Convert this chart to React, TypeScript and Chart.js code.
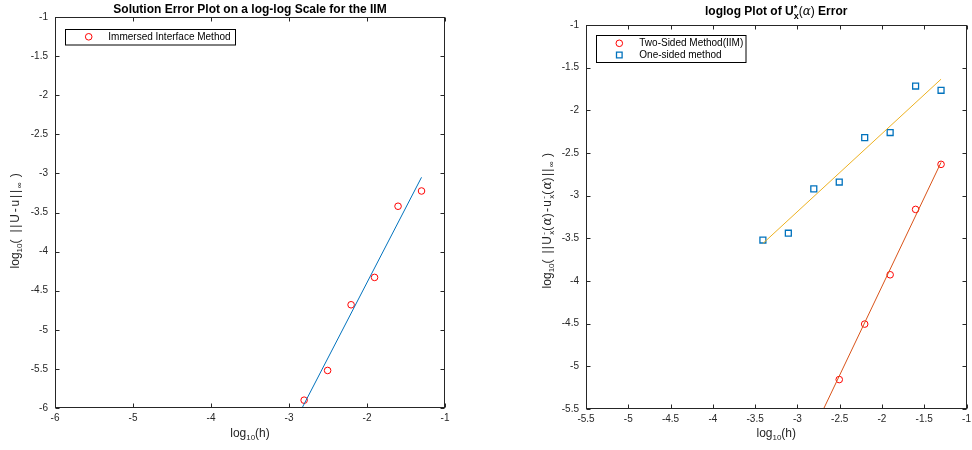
import React, { useEffect, useRef } from "react";
import { Chart, registerables } from "chart.js";
Chart.register(...registerables);

const SANS = '"Liberation Sans", Arial, Helvetica, sans-serif';
const SERIF = '"DejaVu Serif", "Liberation Serif", serif';
const AXIS = "#262626";

// ---------- Left chart data ----------
const leftLogH = [-2.806, -2.505, -2.204, -1.903, -1.602, -1.301];
const leftErr = [-5.9, -5.52, -4.68, -4.33, -3.42, -3.225];
const leftFitH = [-2.9, -1.301];
const leftFitErr = [-6.13, -3.05];
const leftXTicks = [-6, -5, -4, -3, -2, -1];
const leftXTickLabels = ["-6", "-5", "-4", "-3", "-2", "-1"];
const leftYTicks = [-6, -5.5, -5, -4.5, -4, -3.5, -3, -2.5, -2, -1.5, -1];
const leftYTickLabels = ["-6", "-5.5", "-5", "-4.5", "-4", "-3.5", "-3", "-2.5", "-2", "-1.5", "-1"];

// ---------- Right chart data ----------
const rightLogH = [-3.408, -3.107, -2.806, -2.505, -2.204, -1.903, -1.602, -1.301];
const oneSidedErr = [-3.52, -3.44, -2.92, -2.84, -2.32, -2.26, -1.715, -1.765];
const twoSidedH = [-2.505, -2.204, -1.903, -1.602, -1.301];
const twoSidedErr = [-5.155, -4.505, -3.927, -3.161, -2.633];
const oneSidedFitH = [-3.408, -1.301];
const oneSidedFitErr = [-3.56, -1.635];
const twoSidedFitH = [-2.806, -1.301];
const twoSidedFitErr = [-5.74, -2.61];
const rightXTicks = [-5.5, -5, -4.5, -4, -3.5, -3, -2.5, -2, -1.5, -1];
const rightXTickLabels = ["-5.5", "-5", "-4.5", "-4", "-3.5", "-3", "-2.5", "-2", "-1.5", "-1"];
const rightYTicks = [-5.5, -5, -4.5, -4, -3.5, -3, -2.5, -2, -1.5, -1];
const rightYTickLabels = ["-5.5", "-5", "-4.5", "-4", "-3.5", "-3", "-2.5", "-2", "-1.5", "-1"];

type Seg = { t: string; font: string; dy?: number; sub?: string; subDy?: number; ls?: number };

function textW(ctx: CanvasRenderingContext2D, t: string, ls?: number) {
  if (!ls) return ctx.measureText(t).width;
  let w = 0;
  for (const ch of t) w += ctx.measureText(ch).width + ls;
  return w;
}

function segWidth(ctx: CanvasRenderingContext2D, s: Seg) {
  ctx.font = s.font;
  let w = textW(ctx, s.t, s.ls);
  if (s.sub) w = Math.max(w, ctx.measureText(s.sub).width);
  return w;
}

function drawRich(ctx: CanvasRenderingContext2D, segs: Seg[], cx: number, by: number) {
  const total = segs.reduce((a, s) => a + segWidth(ctx, s), 0);
  let x = cx - total / 2;
  ctx.textAlign = "left";
  ctx.textBaseline = "alphabetic";
  for (const s of segs) {
    const w = segWidth(ctx, s);
    ctx.font = s.font;
    if (s.ls) {
      let xx = x;
      for (const ch of s.t) {
        ctx.fillText(ch, xx, by + (s.dy || 0));
        xx += ctx.measureText(ch).width + s.ls;
      }
    } else {
      ctx.fillText(s.t, x, by + (s.dy || 0));
    }
    if (s.sub) ctx.fillText(s.sub, x, by + (s.subDy || 0));
    x += w;
  }
}

type LegendItem = { marker: "circle" | "square"; color: string; text: string; mx: number; my: number; tx: number };
type Spec = {
  xMin: number; xMax: number; yMin: number; yMax: number;
  xTicks: number[]; xLabels: string[]; yTicks: number[]; yLabels: string[];
  padTop: number; padRight: number; yWidth: number; xHeight: number;
  title: Seg[]; titleY: number;
  xLabel: Seg[]; xLabelY: number;
  yLabel: Seg[]; yLabelX: number; yLabelCY: number;
  legendBox: { x: number; y: number; w: number; h: number };
  legend: LegendItem[];
  datasets: any[];
};

function makeConfig(spec: Spec): any {
  const frame = {
    id: "frame",
    afterDatasetsDraw(chart: any) {
      const { ctx, chartArea: a, scales } = chart;
      ctx.save();
      ctx.strokeStyle = AXIS;
      ctx.lineWidth = 1;
      const L = Math.round(a.left) + 0.5, R = Math.round(a.right) - 0.5;
      const T = Math.round(a.top) + 0.5, B = Math.round(a.bottom) - 0.5;
      ctx.strokeRect(L, T, R - L, B - T);
      const tl = 4;
      ctx.beginPath();
      for (const v of spec.xTicks) {
        const px = Math.round(scales.x.getPixelForValue(v)) + 0.5;
        ctx.moveTo(px, B); ctx.lineTo(px, B - tl);
        ctx.moveTo(px, T); ctx.lineTo(px, T + tl);
      }
      for (const v of spec.yTicks) {
        const py = Math.round(scales.y.getPixelForValue(v)) + 0.5;
        ctx.moveTo(L, py); ctx.lineTo(L + tl, py);
        ctx.moveTo(R, py); ctx.lineTo(R - tl, py);
      }
      ctx.stroke();
      ctx.restore();
    },
    afterDraw(chart: any) {
      const { ctx, chartArea: a } = chart;
      const cx = (a.left + a.right) / 2;
      ctx.save();
      ctx.fillStyle = "#000";
      drawRich(ctx, spec.title, cx, spec.titleY);
      ctx.fillStyle = AXIS;
      drawRich(ctx, spec.xLabel, cx, spec.xLabelY);
      ctx.save();
      ctx.translate(spec.yLabelX, spec.yLabelCY);
      ctx.rotate(-Math.PI / 2);
      drawRich(ctx, spec.yLabel, 0, 0);
      ctx.restore();
      // legend
      const b = spec.legendBox;
      ctx.fillStyle = "#fff";
      ctx.fillRect(b.x, b.y, b.w, b.h);
      ctx.strokeStyle = "#000";
      ctx.lineWidth = 1;
      ctx.strokeRect(b.x, b.y, b.w, b.h);
      for (const it of spec.legend) {
        ctx.strokeStyle = it.color;
        ctx.beginPath();
        if (it.marker === "circle") {
          ctx.lineWidth = 1;
          ctx.arc(it.mx, it.my, 3.3, 0, Math.PI * 2);
        } else {
          ctx.lineWidth = 1.3;
          ctx.rect(it.mx - 2.8, it.my - 2.8, 5.6, 5.6);
        }
        ctx.stroke();
        ctx.fillStyle = "#000";
        ctx.font = `10px ${SANS}`;
        ctx.textAlign = "left";
        ctx.textBaseline = "middle";
        ctx.fillText(it.text, it.tx, it.my);
      }
      ctx.restore();
    },
  };
  return {
    type: "scatter",
    data: { datasets: spec.datasets },
    options: {
      animation: false,
      responsive: false,
      devicePixelRatio: 1,
      layout: { padding: { left: 0, top: spec.padTop, right: spec.padRight, bottom: 0 } },
      plugins: { legend: { display: false }, title: { display: false }, tooltip: { enabled: false } },
      scales: {
        x: {
          type: "linear",
          min: spec.xMin,
          max: spec.xMax,
          afterBuildTicks: (s: any) => { s.ticks = spec.xTicks.map((v) => ({ value: v })); },
          afterFit: (s: any) => { s.height = spec.xHeight; s.paddingLeft = 0; s.paddingRight = 0; },
          ticks: {
            autoSkip: false, maxRotation: 0, minRotation: 0, padding: 4, color: AXIS,
            font: { family: SANS, size: 10 },
            callback: (v: number) => spec.xLabels[spec.xTicks.indexOf(v)] ?? "",
          },
          grid: { display: false, drawTicks: false },
          border: { display: false },
        },
        y: {
          type: "linear",
          min: spec.yMin,
          max: spec.yMax,
          afterBuildTicks: (s: any) => { s.ticks = spec.yTicks.map((v) => ({ value: v })); },
          afterFit: (s: any) => { s.width = spec.yWidth; s.paddingTop = 0; s.paddingBottom = 0; },
          ticks: {
            autoSkip: false, padding: 7, color: AXIS,
            font: { family: SANS, size: 10 },
            callback: (v: number) => spec.yLabels[spec.yTicks.indexOf(v)] ?? "",
          },
          grid: { display: false, drawTicks: false },
          border: { display: false },
        },
      },
    },
    plugins: [frame],
  };
}

const pts = (xs: number[], ys: number[]) => xs.map((x, i) => ({ x, y: ys[i] }));

const B12 = `bold 12px ${SANS}`;
const N12 = `12px ${SANS}`;
const N8 = `8px ${SANS}`;
const I12S = `italic 12px ${SERIF}`;

const leftSpec: Spec = {
  xMin: -6, xMax: -1, yMin: -6, yMax: -1,
  xTicks: leftXTicks, xLabels: leftXTickLabels, yTicks: leftYTicks, yLabels: leftYTickLabels,
  padTop: 17, padRight: 41, yWidth: 55, xHeight: 42,
  title: [{ t: "Solution Error Plot on a log-log Scale for the IIM", font: B12 }],
  titleY: 12.5,
  xLabel: [{ t: "log", font: N12 }, { t: "10", font: N8, dy: 3 }, { t: "(h)", font: N12 }],
  xLabelY: 437,
  yLabel: [
    { t: "log", font: N12 }, { t: "10", font: N8, dy: 3 }, { t: "( ||U-u||", font: N12, ls: 1.8 },
    { t: "∞", font: N8, dy: 3 }, { t: " )", font: N12, ls: 1.8 },
  ],
  yLabelX: 19, yLabelCY: 220,
  legendBox: { x: 65.5, y: 29.5, w: 170, h: 15.5 },
  legend: [{ marker: "circle", color: "#ff0000", text: "Immersed Interface Method", mx: 88.7, my: 36.8, tx: 108.3 }],
  datasets: [
    {
      label: "Immersed Interface Method", data: pts(leftLogH, leftErr), order: 2,
      pointStyle: "circle", pointRadius: 3.3, borderColor: "#ff0000", backgroundColor: "rgba(0,0,0,0)", borderWidth: 1,
    },
    {
      label: "fit", data: pts(leftFitH, leftFitErr), order: 1, showLine: true,
      pointRadius: 0, borderColor: "#0072BD", borderWidth: 1,
    },
  ],
};

const rightSpec: Spec = {
  xMin: -5.5, xMax: -1, yMin: -5.5, yMax: -1,
  xTicks: rightXTicks, xLabels: rightXTickLabels, yTicks: rightYTicks, yLabels: rightYTickLabels,
  padTop: 25, padRight: 2.5, yWidth: 100, xHeight: 41,
  title: [
    { t: "loglog Plot of U", font: B12 },
    { t: "*", font: `bold 9px ${SANS}`, dy: -4, sub: "x", subDy: 4 },
    { t: "(", font: N12 }, { t: "α", font: I12S }, { t: ")", font: N12 },
    { t: " Error", font: B12 },
  ],
  titleY: 15,
  xLabel: [{ t: "log", font: N12 }, { t: "10", font: N8, dy: 3 }, { t: "(h)", font: N12 }],
  xLabelY: 437,
  yLabel: [
    { t: "log", font: N12 }, { t: "10", font: N8, dy: 3 }, { t: "( ||U", font: N12, ls: 1.3 },
    { t: "-", font: N8, dy: -5, sub: "x", subDy: 3 },
    { t: "(", font: N12, ls: 1.3 }, { t: "α", font: I12S }, { t: ")-u", font: N12, ls: 1.3 },
    { t: "-", font: N8, dy: -5, sub: "x", subDy: 3 },
    { t: "(", font: N12, ls: 1.3 }, { t: "α", font: I12S }, { t: ")||", font: N12, ls: 1.3 },
    { t: "∞", font: N8, dy: 3 }, { t: " )", font: N12, ls: 1.3 },
  ],
  yLabelX: 65, yLabelCY: 220,
  legendBox: { x: 110.5, y: 35.5, w: 149.5, h: 27 },
  legend: [
    { marker: "circle", color: "#ff0000", text: "Two-Sided Method(IIM)", mx: 133.3, my: 43.3, tx: 153.3 },
    { marker: "square", color: "#0072BD", text: "One-sided method", mx: 133.3, my: 55, tx: 153.3 },
  ],
  datasets: [
    {
      label: "Two-Sided Method(IIM)", data: pts(twoSidedH, twoSidedErr), order: 3,
      pointStyle: "circle", pointRadius: 3.3, borderColor: "#ff0000", backgroundColor: "rgba(0,0,0,0)", borderWidth: 1,
    },
    {
      label: "One-sided method", data: pts(rightLogH, oneSidedErr), order: 4,
      pointStyle: "rect", pointRadius: 4.2, borderColor: "#0072BD", backgroundColor: "rgba(0,0,0,0)", borderWidth: 1.3,
    },
    {
      label: "one-sided fit", data: pts(oneSidedFitH, oneSidedFitErr), order: 1, showLine: true,
      pointRadius: 0, borderColor: "#EDB120", borderWidth: 1,
    },
    {
      label: "two-sided fit", data: pts(twoSidedFitH, twoSidedFitErr), order: 2, showLine: true,
      pointRadius: 0, borderColor: "#D95319", borderWidth: 1,
    },
  ],
};

function Panel({ spec, left }: { spec: Spec; left: number }) {
  const ref = useRef<HTMLCanvasElement | null>(null);
  useEffect(() => {
    if (!ref.current) return;
    const chart = new Chart(ref.current, makeConfig(spec));
    return () => chart.destroy();
  }, [spec]);
  return (
    <canvas
      ref={ref}
      width={486}
      height={450}
      style={{ position: "absolute", left, top: 0, width: 486, height: 450 }}
    />
  );
}

export default function App() {
  return (
    <div style={{ position: "fixed", left: 0, top: 0, width: 972, height: 450, background: "#fff", overflow: "hidden" }}>
      <Panel spec={leftSpec} left={0} />
      <Panel spec={rightSpec} left={486} />
    </div>
  );
}
